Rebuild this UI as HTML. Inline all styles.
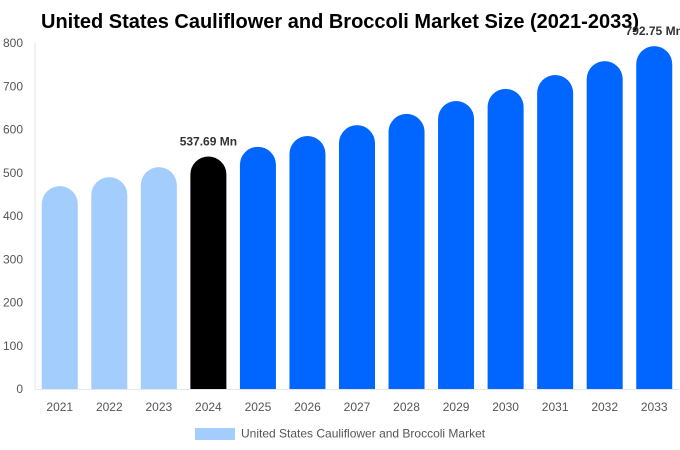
<!DOCTYPE html>
<html><head><meta charset="utf-8"><style>
body{margin:0;background:#fff;}
svg{display:block;font-family:"Liberation Sans",sans-serif;}
</style></head><body>
<svg id="chart" width="680" height="450">
<text x="340" y="28" text-anchor="middle" font-size="20" font-weight="bold" fill="#000">United States Cauliflower and Broccoli Market Size (2021-2033)</text>
<g id="axes"></g>
<g id="bars"></g>
<g>
<rect x="195" y="428" width="40" height="12" fill="#a3cdfc"/>
<text x="241" y="437.5" font-size="12" fill="#555">United States Cauliflower and Broccoli Market</text>
</g>
</svg>
<script>
const years=["2021","2022","2023","2024","2025","2026","2027","2028","2029","2030","2031","2032","2033"];
const values=[469,490,513,537.69,560,585,610,636,666,694,726,758,792.75];
const yTicks=[0,100,200,300,400,500,600,700,800];
const labels={3:"537.69 Mn",12:"792.75 Mn"};
const NS="http://www.w3.org/2000/svg";
const left=35,right=679,y0=389,y1=43,yMax=800;
const band=(right-left)/years.length,bw=36;
const y=v=>y0-(v/yMax)*(y0-y1);
const x=i=>left+band*(i+0.5);
function mk(t,a,p){const e=document.createElementNS(NS,t);for(const k in a)e.setAttribute(k,a[k]);p.appendChild(e);return e;}
const ax=document.getElementById('axes'),bars=document.getElementById('bars');
yTicks.forEach(t=>{const e=mk('text',{x:23,y:y(t)+4,'text-anchor':'end','font-size':12,fill:'#555'},ax);e.textContent=t;

});
const l1=mk('line',{x1:left,x2:left,y1:y1,y2:y0,stroke:'#e6e6e6'},ax);


const l2=mk('line',{x1:left,x2:right,y1:y0+0.5,y2:y0+0.5,stroke:'#e6e6e6'},ax);


years.forEach((yr,i)=>{
 const cx=x(i),top=y(values[i]),r=bw/2,xl=cx-r,xr=cx+r;
 const col=i<3?'#a3cdfc':(i===3?'#000':'#0066ff');
 const p=mk('path',{d:`M${xl},${y0} L${xl},${top+r} A${r},${r} 0 0 1 ${xr},${top+r} L${xr},${y0} Z`,fill:col},bars);
 
 
 const t=mk('text',{x:cx,y:411,'text-anchor':'middle','font-size':12,fill:'#555'},ax);t.textContent=yr;
 
 
 if(labels[i]){const v=mk('text',{x:cx,y:top-11,'text-anchor':'middle','font-size':12,'font-weight':'bold',fill:'#333'},bars);v.textContent=labels[i];
 
 }
});
</script>
</body></html>
